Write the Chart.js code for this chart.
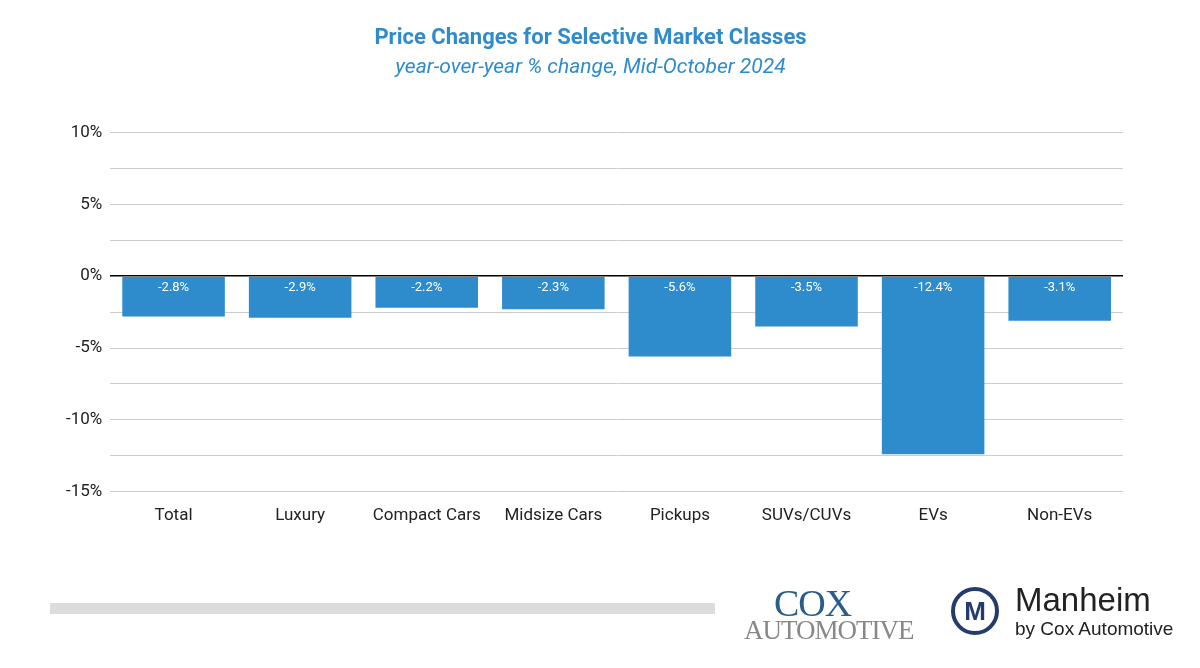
<!DOCTYPE html>
<html><head><meta charset="utf-8">
<script src="https://cdn.jsdelivr.net/npm/chart.js@4"></script>
<style>
body{margin:0;background:#fff;width:1200px;height:668px;position:relative;overflow:hidden;font-family:Roboto,sans-serif}
#c{position:absolute;left:0;top:0}
.bar{position:absolute;left:50px;top:603px;width:665px;height:11px;background:#dcdcdc}
.cox{position:absolute;left:742px;top:584px;font-family:"Liberation Serif",serif;line-height:1}
.cox .a{color:#2a5d8a;font-size:38px;position:absolute;left:32px;top:0;letter-spacing:-1px}
.cox .b{color:#888;font-size:27px;position:absolute;left:2px;top:33px;white-space:nowrap;letter-spacing:-1px}
.logo{position:absolute;left:951px;top:587px;width:48px;height:48px;border:4px solid #243c6b;border-radius:50%;box-sizing:border-box;display:flex;align-items:center;justify-content:center;color:#243c6b;font:bold 26px "Liberation Sans",sans-serif}
.man{position:absolute;left:1015px;top:583px;color:#222;font-family:"Liberation Sans",Arial,sans-serif;line-height:1}
.man .a{font-size:33px;white-space:nowrap}
.man .b{font-size:19px;white-space:nowrap;margin-top:3px}
</style></head><body>
<canvas id="c" width="1200" height="668"></canvas>
<div class="bar"></div>
<div class="cox"><span class="a">COX</span><span class="b">AUTOMOTIVE</span></div>
<div class="logo">M</div>
<div class="man"><div class="a">Manheim</div><div class="b">by Cox Automotive</div></div>
<script>
const categories=["Total","Luxury","Compact Cars","Midsize Cars","Pickups","SUVs/CUVs","EVs","Non-EVs"];
const values=[-2.8,-2.9,-2.2,-2.3,-5.6,-3.5,-12.4,-3.1];
const labelPlugin={id:'lbl',afterDatasetsDraw(ch){const ctx=ch.ctx;const m=ch.getDatasetMeta(0);ctx.save();ctx.fillStyle='#fff';ctx.font='13px Roboto';ctx.textAlign='center';ctx.textBaseline='top';
m.data.forEach((b,i)=>{ctx.fillText(values[i].toFixed(1)+'%',b.x,b.base+4);});ctx.restore();}};
new Chart(document.getElementById('c'),{type:'bar',
data:{labels:categories,datasets:[{data:values,backgroundColor:'#2e8bcc',categoryPercentage:0.81,barPercentage:1}]},
options:{responsive:false,animation:false,
layout:{padding:{left:58,right:77,top:0,bottom:136}},
plugins:{legend:{display:false},tooltip:{enabled:false},
title:{display:true,text:'Price Changes for Selective Market Classes',color:'#2e8bcc',font:{family:'Roboto',size:22,weight:'bold'},padding:{top:25,bottom:4}},
subtitle:{display:true,text:'year-over-year % change, Mid-October 2024',color:'#2e8bcc',font:{family:'Roboto',size:21,style:'italic'},padding:{bottom:52}}},
scales:{
x:{grid:{display:false},border:{display:false},ticks:{color:'#222',font:{family:'Roboto',size:17},padding:6}},
y:{min:-15,max:10,ticks:{stepSize:2.5,color:'#222',font:{family:'Roboto',size:17},padding:8,callback:v=>v%5===0?v+'%':''},
border:{display:false},grid:{drawTicks:false,color:c=>c.tick.value===0?'#000':'#ccc',lineWidth:c=>c.tick.value===0?1.5:1}}}},
plugins:[labelPlugin]});
</script></body></html>
